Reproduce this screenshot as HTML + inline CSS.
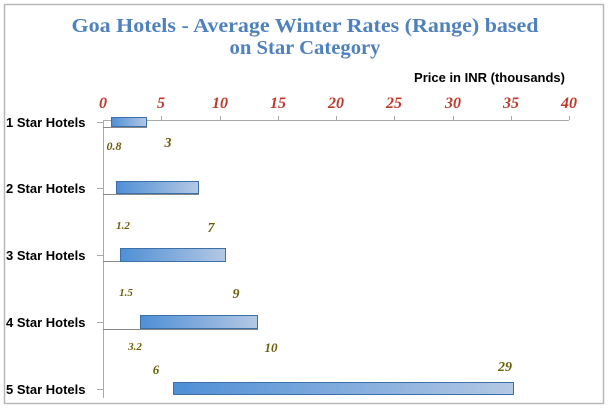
<!DOCTYPE html>
<html><head><meta charset="utf-8"><style>
html,body{margin:0;padding:0;background:#fff;width:609px;height:408px;overflow:hidden}
</style></head><body>
<svg width="609" height="408" xmlns="http://www.w3.org/2000/svg">
<defs>
<linearGradient id="g" x1="0" x2="1" y1="0" y2="0">
<stop offset="0" stop-color="#4f8fd6"/><stop offset="1" stop-color="#b4c8e4"/>
</linearGradient>
</defs>
<rect x="4.5" y="4.5" width="599" height="399" fill="#fff" stroke="#b8b8b8" stroke-width="1.5"/>
<g font-family="Liberation Serif, serif" font-weight="bold" fill="#4f81bd" font-size="20" text-anchor="middle">
<text x="305" y="32" textLength="467" lengthAdjust="spacingAndGlyphs">Goa Hotels - Average Winter Rates (Range) based</text>
<text x="305" y="54" textLength="151" lengthAdjust="spacingAndGlyphs">on Star Category</text>
</g>
<text x="565" y="82" font-family="Liberation Sans, sans-serif" font-weight="bold" font-size="13" text-anchor="end">Price in INR (thousands)</text>
<g font-family="Liberation Serif, serif" font-weight="bold" font-style="italic" fill="#c0392b" font-size="16" text-anchor="middle">
<text x="103" y="108">0</text><text x="161" y="108">5</text><text x="220" y="108">10</text><text x="278" y="108">15</text><text x="336" y="108">20</text><text x="394" y="108">25</text><text x="453" y="108">30</text><text x="511" y="108">35</text><text x="569" y="108">40</text>
</g>
<g stroke="#aaa" stroke-width="1">
<line x1="103" y1="120.5" x2="569" y2="120.5"/>
<line x1="103.5" y1="120" x2="103.5" y2="398"/>
<line x1="161.5" y1="116" x2="161.5" y2="120"/><line x1="220.5" y1="116" x2="220.5" y2="120"/><line x1="278.5" y1="116" x2="278.5" y2="120"/><line x1="336.5" y1="116" x2="336.5" y2="120"/><line x1="394.5" y1="116" x2="394.5" y2="120"/><line x1="453.5" y1="116" x2="453.5" y2="120"/><line x1="511.5" y1="116" x2="511.5" y2="120"/><line x1="569.5" y1="116" x2="569.5" y2="120"/>
<line x1="97" y1="122.5" x2="103" y2="122.5"/><line x1="97" y1="188.5" x2="103" y2="188.5"/><line x1="97" y1="255.5" x2="103" y2="255.5"/><line x1="97" y1="322.5" x2="103" y2="322.5"/><line x1="97" y1="389.5" x2="103" y2="389.5"/>
</g>
<g stroke="#888" stroke-width="1">
<line x1="103" y1="127.5" x2="147" y2="127.5"/>
<line x1="103" y1="194.5" x2="199" y2="194.5"/>
<line x1="103" y1="261.5" x2="226" y2="261.5"/>
<line x1="103" y1="329.5" x2="258" y2="329.5"/>
</g>
<g fill="url(#g)" stroke="#3d6fa8" stroke-width="1">
<rect x="111.5" y="117.5" width="35" height="9"/>
<rect x="116.5" y="181.5" width="82" height="12"/>
<rect x="120.5" y="248.5" width="105" height="13"/>
<rect x="140.5" y="315.5" width="117" height="13"/>
<rect x="173.5" y="382.5" width="340" height="12"/>
</g>
<g font-family="Liberation Sans, sans-serif" font-weight="bold" font-size="13" fill="#000">
<text x="6" y="127">1 Star Hotels</text><text x="6" y="193">2 Star Hotels</text><text x="6" y="260">3 Star Hotels</text><text x="6" y="327">4 Star Hotels</text><text x="6" y="394">5 Star Hotels</text>
</g>
<g font-family="Liberation Serif, serif" font-weight="bold" font-style="italic" fill="#6b5e0a" text-anchor="middle">
<text x="114" y="150" font-size="12">0.8</text><text x="168" y="147" font-size="14">3</text>
<text x="123" y="229" font-size="11">1.2</text><text x="211" y="232" font-size="14">7</text>
<text x="126" y="296" font-size="11">1.5</text><text x="236" y="298" font-size="14">9</text>
<text x="135" y="350" font-size="11">3.2</text><text x="271" y="352" font-size="13">10</text>
<text x="156" y="374" font-size="13">6</text><text x="505" y="371" font-size="14">29</text>
</g>
</svg>
</body></html>
